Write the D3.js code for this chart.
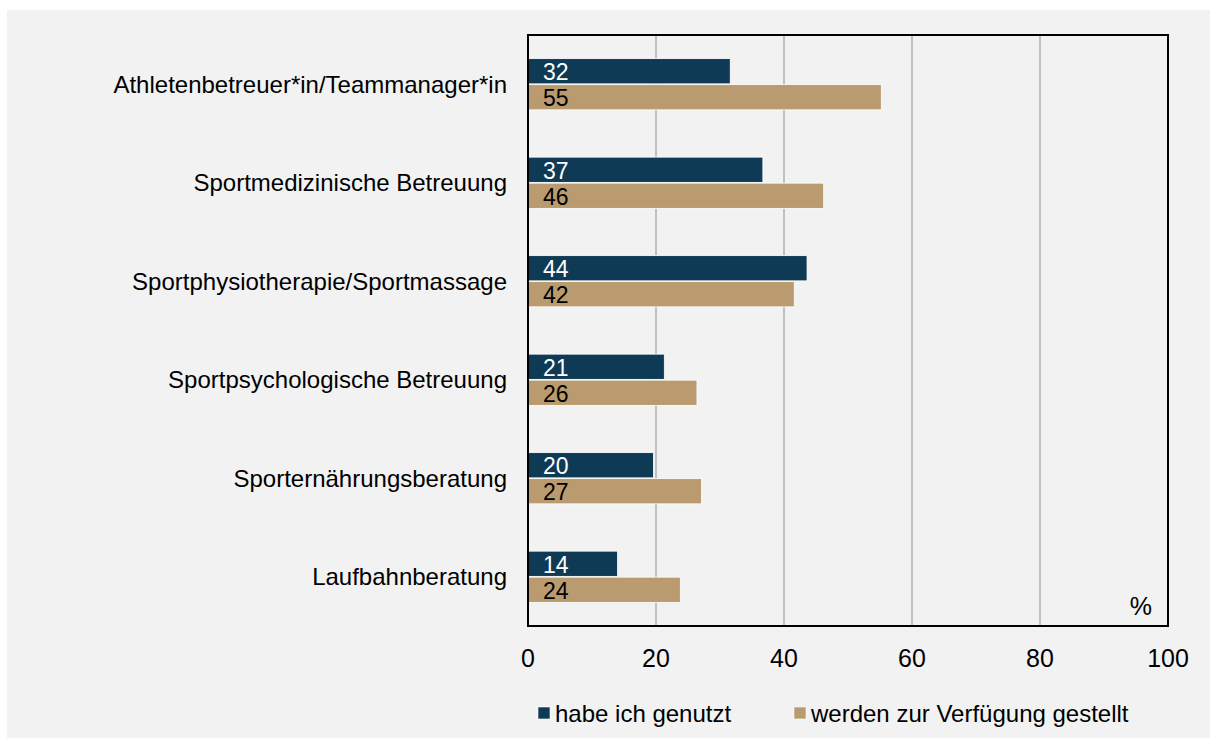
<!DOCTYPE html>
<html>
<head>
<meta charset="utf-8">
<script src="https://cdn.jsdelivr.net/npm/d3@7"></script>
<style>
  body { margin: 0; background: #fff; }
  #chart { width: 1210px; height: 738px; }
</style>
</head>
<body>
<div id="chart"></div>
<script>
// Categories and series (values in %)
const categories = [
  "Athletenbetreuer*in/Teammanager*in",
  "Sportmedizinische Betreuung",
  "Sportphysiotherapie/Sportmassage",
  "Sportpsychologische Betreuung",
  "Sporternährungsberatung",
  "Laufbahnberatung"
];
const genutzt = [31.6, 36.7, 43.6, 21.3, 19.6, 14.0];
const gestellt = [55.2, 46.2, 41.6, 26.4, 27.1, 23.8];
const seriesNames = ["habe ich genutzt", "werden zur Verfügung gestellt"];
const xTicks = [0, 20, 40, 60, 80, 100];

const colors = ["#0f3a55", "#b99b6f"];
const font = "'Liberation Sans', Arial, sans-serif";

const width = 1210, height = 738;
const margin = { top: 35, right: 42, bottom: 112, left: 528 };
const plotW = width - margin.left - margin.right;
const plotH = height - margin.top - margin.bottom;

const svg = d3.select("#chart").append("svg")
  .attr("width", width)
  .attr("height", height);

// background panel
svg.append("rect")
  .attr("x", 7).attr("y", 10)
  .attr("width", width - 7).attr("height", height - 10)
  .attr("fill", "#f2f2f2");

const g = svg.append("g")
  .attr("transform", `translate(${margin.left},${margin.top})`);

const x = d3.scaleLinear().domain([0, 100]).range([0, plotW]);
const y = d3.scaleBand().domain(categories).range([0, plotH]).paddingInner(0.48).paddingOuter(0.24);
const sub = d3.scaleBand().domain(seriesNames).range([0, y.bandwidth()]).paddingInner(0.03);

// gridlines
g.selectAll(".grid")
  .data(xTicks.slice(1, -1))
  .enter()
  .append("line")
  .attr("x1", (d) => x(d))
  .attr("x2", (d) => x(d))
  .attr("y1", 0)
  .attr("y2", plotH)
  .attr("stroke", "#c0c0c0")
  .attr("stroke-width", 2);

// bars
const series = [genutzt, gestellt];
series.forEach((vals, s) => {
  g.selectAll(".bar" + s)
    .data(vals)
    .enter()
    .append("rect")
    .attr("x", x(0))
    .attr("y", (d, i) => y(categories[i]) + sub(seriesNames[s]))
    .attr("width", (d) => x(d))
    .attr("height", sub.bandwidth())
    .attr("fill", colors[s])
    .attr("stroke", "#ffffff")
    .attr("stroke-width", 0.8);

  g.selectAll(".val" + s)
    .data(vals)
    .enter()
    .append("text")
    .attr("x", x(0) + 15)
    .attr("y", (d, i) => y(categories[i]) + sub(seriesNames[s]) + sub.bandwidth() / 2 + 1)
    .attr("dominant-baseline", "central")
    .attr("font-family", font)
    .attr("font-size", "23px")
    .attr("fill", s === 0 ? "#ffffff" : "#000000")
    .text((d) => Math.round(d));
});

// frame
g.append("rect")
  .attr("x", 0).attr("y", 0)
  .attr("width", plotW).attr("height", plotH)
  .attr("fill", "none")
  .attr("stroke", "#000")
  .attr("stroke-width", 2);

// category labels
g.selectAll(".cat")
  .data(categories)
  .enter()
  .append("text")
  .attr("x", -21)
  .attr("y", (d) => y(d) + y.bandwidth() / 2)
  .attr("text-anchor", "end")
  .attr("dominant-baseline", "central")
  .attr("font-family", font)
  .attr("font-size", "24px")
  .attr("fill", "#000")
  .text((d) => d);

// x tick labels
g.selectAll(".tick-label")
  .data(xTicks)
  .enter()
  .append("text")
  .attr("x", (d) => x(d))
  .attr("y", plotH + 32)
  .attr("text-anchor", "middle")
  .attr("dominant-baseline", "central")
  .attr("font-family", font)
  .attr("font-size", "25px")
  .attr("fill", "#000")
  .text((d) => d);

// unit
g.append("text")
  .attr("x", plotW - 16)
  .attr("y", plotH - 20)
  .attr("text-anchor", "end")
  .attr("dominant-baseline", "central")
  .attr("font-family", font)
  .attr("font-size", "25px")
  .text("%");

// legend
const legendX = [538, 794];
const legend = svg.selectAll(".legend")
  .data(seriesNames)
  .enter()
  .append("g")
  .attr("transform", (d, i) => `translate(${legendX[i]},713)`);

legend.append("rect")
  .attr("x", 0).attr("y", -6)
  .attr("width", 12).attr("height", 12)
  .attr("fill", (d, i) => colors[i])
  .attr("stroke", "#ffffff")
  .attr("stroke-width", 0.6);

legend.append("text")
  .attr("x", 17)
  .attr("y", 0)
  .attr("dominant-baseline", "central")
  .attr("font-family", font)
  .attr("font-size", "24px")
  .text((d) => d);
</script>
</body>
</html>
